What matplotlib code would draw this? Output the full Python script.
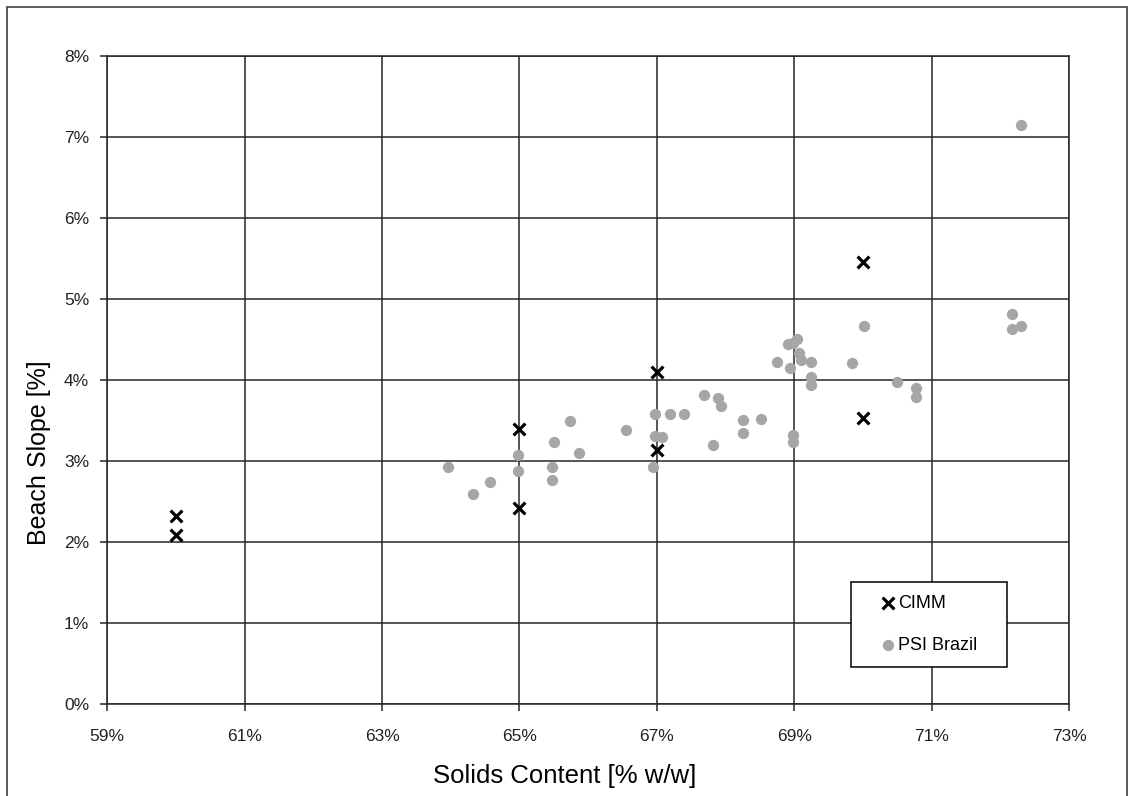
import matplotlib.pyplot as plt
from matplotlib.patches import Rectangle
from matplotlib.ticker import FuncFormatter

plt.rcParams['font.family'] = ['Liberation Sans', 'DejaVu Sans']

# CIMM test results
cimm_solids = [60.0, 60.0, 65.0, 65.0, 67.0, 67.0, 70.0, 70.0]
cimm_slope = [2.32, 2.09, 3.39, 2.42, 4.10, 3.13, 5.46, 3.53]

# PSI Brazil field data
psi_solids = [63.96, 64.32, 64.57, 64.98, 64.98, 65.51, 65.48, 65.48, 65.74, 65.87,
              66.55, 66.98, 66.98, 66.95, 67.07, 67.19, 67.39, 67.69, 67.89, 67.93,
              68.26, 68.26, 68.52, 67.82, 68.75, 68.91, 68.98, 69.04, 68.94, 69.07,
              69.10, 69.25, 69.25, 69.25, 69.84, 70.02, 68.98, 68.98, 70.49, 70.77,
              70.77, 72.17, 72.17, 72.30, 72.30]
psi_slope = [2.93, 2.59, 2.74, 3.07, 2.88, 3.23, 2.93, 2.77, 3.49, 3.10,
             3.38, 3.58, 3.31, 2.93, 3.29, 3.58, 3.58, 3.81, 3.78, 3.68,
             3.50, 3.34, 3.52, 3.19, 4.22, 4.44, 4.46, 4.51, 4.15, 4.33,
             4.25, 4.22, 4.03, 3.94, 4.21, 4.66, 3.32, 3.23, 3.97, 3.90,
             3.79, 4.81, 4.63, 4.66, 7.14]

x_ticks = [59, 61, 63, 65, 67, 69, 71, 73]
y_ticks = [0, 1, 2, 3, 4, 5, 6, 7, 8]

fig = plt.figure(figsize=(11.34, 7.96), dpi=100)
ax = fig.add_axes([0.0946, 0.1156, 0.8481, 0.8144])

ax.scatter(psi_solids, psi_slope, s=66, color='#a6a6a6', linewidths=0,
           zorder=3, label='PSI Brazil')
ax.scatter(cimm_solids, cimm_slope, s=72, marker='x', color='black',
           linewidths=2.3, zorder=4, label='CIMM')

ax.set_xlim(59, 73)
ax.set_ylim(0, 8)
ax.set_xticks(x_ticks)
ax.set_yticks(y_ticks)
pct = FuncFormatter(lambda v, p: f'{v:.0f}%')
ax.xaxis.set_major_formatter(pct)
ax.yaxis.set_major_formatter(pct)
ax.grid(True, color='#262626', linewidth=1.1, zorder=1)
ax.set_axisbelow(True)
ax.tick_params(direction='out', length=5, width=1.1, color='#262626',
               labelsize=12.5, labelcolor='#222222')
ax.tick_params(axis='x', pad=13)
ax.tick_params(axis='y', pad=8)
for s in ax.spines.values():
    s.set_color('#262626')
    s.set_linewidth(1.1)

ax.set_xlabel('Solids Content [% w/w]', fontsize=18.5)
ax.set_ylabel('Beach Slope [%]', fontsize=18)
ax.xaxis.set_label_coords(0.4754, -0.093)
ax.yaxis.set_label_coords(-0.058, 0.387)

# legend box
ax.add_patch(Rectangle((0.773, 0.0575), 0.1628, 0.1302, transform=ax.transAxes,
                       facecolor='white', edgecolor='black', linewidth=1.1,
                       zorder=4.5))
h, l = ax.get_legend_handles_labels()
ax.legend(h[::-1], l[::-1], loc='center', bbox_to_anchor=(0.8544, 0.1226),
          frameon=False, fontsize=13, labelspacing=1.4, handlelength=0.8,
          handletextpad=0.15, scatterpoints=1)

fig.add_artist(Rectangle((7 / 1134, -0.01), 1120 / 1134, 1 - 7 / 796 + 0.01,
                         transform=fig.transFigure, fill=False,
                         edgecolor='#404040', linewidth=1.2))

fig.savefig('out.png', dpi=100)
